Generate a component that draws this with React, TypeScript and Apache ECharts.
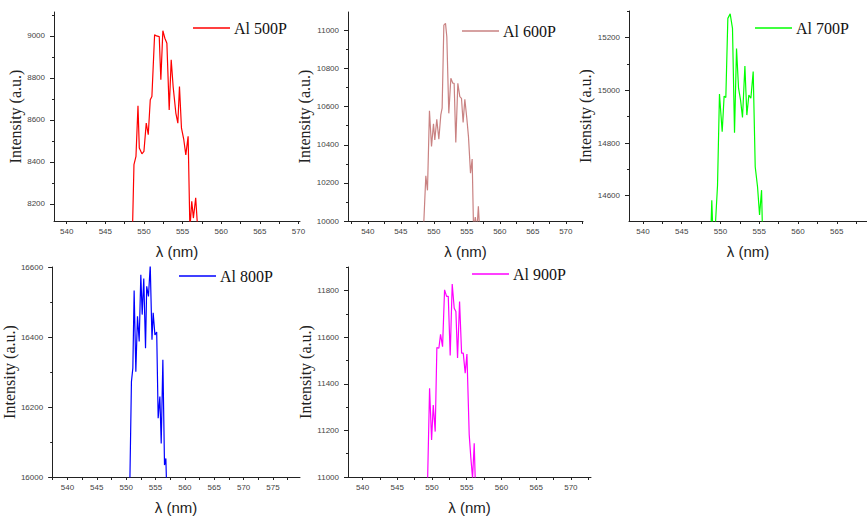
import { useEffect, useRef } from "react";
import * as echarts from "echarts";

// ---- data ----
const seriesNames = ["Al 500P", "Al 600P", "Al 700P", "Al 800P", "Al 900P"];

const x500 = [548.5, 548.71, 548.97, 549.23, 549.4, 549.74, 550.0, 550.3, 550.56, 550.82, 551.03, 551.38, 551.63, 551.98, 552.19, 552.45, 552.71, 552.97, 553.27, 553.53, 553.78, 554.13, 554.39, 554.6, 554.86, 555.16, 555.42, 555.72, 555.95, 556.19, 556.4, 556.7, 556.96];
const y500 = [8050, 8387, 8427, 8667, 8466, 8439, 8450, 8585, 8530, 8696, 8712, 9005, 9000, 8997, 8791, 9025, 8989, 8965, 8648, 8886, 8759, 8633, 8585, 8759, 8561, 8506, 8434, 8522, 8080, 8213, 8133, 8229, 8080];

const x600 = [548.43, 548.79, 549.04, 549.34, 549.65, 549.95, 550.15, 550.45, 550.76, 551.06, 551.26, 551.52, 551.77, 551.97, 552.27, 552.58, 552.88, 553.08, 553.33, 553.64, 553.94, 554.19, 554.44, 554.7, 555.0, 555.25, 555.56, 555.81, 556.02, 556.28, 556.55, 556.75, 556.95];
const y600 = [9950, 10237, 10161, 10578, 10391, 10510, 10426, 10534, 10429, 10557, 10592, 11028, 11037, 10967, 10565, 10749, 10723, 10723, 10412, 10723, 10653, 10644, 10517, 10639, 10539, 10443, 10251, 10325, 9950, 10021, 9960, 10077, 9950];

const x700 = [548.75, 548.88, 549.03, 549.27, 549.62, 549.87, 550.22, 550.47, 550.69, 550.95, 551.25, 551.55, 551.81, 552.07, 552.33, 552.59, 552.84, 553.15, 553.4, 553.66, 553.92, 554.22, 554.48, 554.78, 555.04, 555.3, 555.43];
const y700 = [14450, 14583, 14450, 14450, 14640, 14986, 14843, 14978, 14973, 15273, 15290, 15235, 14839, 15159, 15008, 14963, 14897, 15092, 14906, 14982, 14970, 15071, 14710, 14634, 14527, 14621, 14450];

const x800 = [550.6, 550.9, 551.14, 551.36, 551.65, 551.93, 552.22, 552.5, 552.73, 553.0, 553.3, 553.5, 553.8, 554.1, 554.4, 554.6, 554.9, 555.2, 555.45, 555.74, 555.97, 556.25, 556.53, 556.76, 556.93];
const y800 = [15950, 16272, 16311, 16533, 16301, 16459, 16387, 16578, 16464, 16567, 16368, 16545, 16516, 16605, 16392, 16469, 16406, 16414, 16168, 16230, 16096, 16335, 16034, 16053, 15950];

const x900 = [549.36, 549.65, 549.94, 550.18, 550.46, 550.7, 550.99, 551.23, 551.52, 551.81, 552.1, 552.34, 552.62, 552.91, 553.2, 553.44, 553.68, 553.97, 554.26, 554.5, 554.78, 555.03, 555.36, 555.6, 555.84, 556.08, 556.25];
const y900 = [10980, 11381, 11159, 11309, 11195, 11556, 11553, 11613, 11560, 11804, 11776, 11776, 11522, 11829, 11725, 11711, 11511, 11754, 11532, 11532, 11446, 11528, 11181, 11080, 10995, 11145, 10960];

// tick labels
const xTicks1 = [540, 545, 550, 555, 560, 565, 570];
const xTicks2 = [540, 545, 550, 555, 560, 565, 570];
const xTicks3 = [540, 545, 550, 555, 560, 565];
const xTicks4 = [540, 545, 550, 555, 560, 565, 570, 575];
const xTicks5 = [540, 545, 550, 555, 560, 565, 570];

const yTicks1 = [8200, 8400, 8600, 8800, 9000];
const yTicks2 = [10000, 10200, 10400, 10600, 10800, 11000];
const yTicks3 = [14600, 14800, 15000, 15200];
const yTicks4 = [16000, 16200, 16400, 16600];
const yTicks5 = [11000, 11200, 11400, 11600, 11800];

const colors = ["#ff0000", "#c98282", "#00ff00", "#0000ff", "#ff00ff"];

// ---- layout ----
const panels = [
  { x: x500, y: y500, xTicks: xTicks1, yTicks: yTicks1, grid: { left: 54, top: 12, width: 246, height: 209 }, xr: [538.36, 570.2], yr: [8119, 9114], legend: { left: 193, top: 20 }, nameGap: 21 },
  { x: x600, y: y600, xTicks: xTicks2, yTicks: yTicks2, grid: { left: 348, top: 12, width: 235, height: 209 }, xr: [537.0, 572.6], yr: [10000, 11097], legend: { left: 462, top: 23 }, nameGap: 26 },
  { x: x700, y: y700, xTicks: xTicks3, yTicks: yTicks3, grid: { left: 629, top: 11, width: 238, height: 210 }, xr: [538.2, 568.9], yr: [14504, 15301], legend: { left: 755, top: 20 }, nameGap: 25 },
  { x: x800, y: y800, xTicks: xTicks4, yTicks: yTicks4, grid: { left: 52, top: 267, width: 248, height: 210 }, xr: [537.4, 579.6], yr: [16000, 16600], legend: { left: 179, top: 268 }, nameGap: 24 },
  { x: x900, y: y900, xTicks: xTicks5, yTicks: yTicks5, grid: { left: 348, top: 267, width: 243, height: 210 }, xr: [537.9, 572.9], yr: [11000, 11902], legend: { left: 472, top: 266 }, nameGap: 26 },
];

function stepsInside(min: number, max: number, step: number) {
  const out: number[] = [];
  for (let v = Math.ceil(min / step) * step; v <= max + 1e-9; v += step) out.push(Math.round(v * 1000) / 1000);
  return out;
}

const axisColor = "#222";
const tickFont = { fontFamily: "Liberation Sans, Arial, sans-serif", fontSize: 8, color: "#444" };

export default function App() {
  const ref = useRef<HTMLDivElement>(null);
  useEffect(() => {
    if (!ref.current) return;
    const chart = echarts.init(ref.current, undefined, { renderer: "svg" });
    const grid = panels.map((p) => ({ ...p.grid, containLabel: false }));
    const xAxis = panels.map((p, i) => ({
      type: "value",
      gridIndex: i,
      min: p.xr[0],
      max: p.xr[1],
      axisLine: { show: true, onZero: false, lineStyle: { color: axisColor, width: 1 } },
      axisTick: { show: true, length: 3, customValues: stepsInside(p.xr[0], p.xr[1], 2.5), lineStyle: { color: axisColor } },
      axisLabel: { ...tickFont, margin: 6, customValues: p.xTicks, formatter: (v: number) => String(v) },
      splitLine: { show: false },
      name: "λ (nm)",
      nameLocation: "middle",
      nameGap: 23,
      nameTextStyle: { fontFamily: "Liberation Sans, Arial, sans-serif", fontSize: 15, color: "#222" },
    }));
    const yAxis: any[] = [];
    panels.forEach((p, i) => {
      yAxis.push({
        type: "value",
        gridIndex: i,
        position: "left",
        min: p.yr[0],
        max: p.yr[1],
        axisLine: { show: true, onZero: false, lineStyle: { color: axisColor, width: 1 } },
        axisTick: { show: true, length: 4, customValues: p.yTicks, lineStyle: { color: axisColor } },
        axisLabel: { ...tickFont, margin: 9, customValues: p.yTicks, formatter: (v: number) => String(v) },
        splitLine: { show: false },
        name: "Intensity (a.u.)",
        nameLocation: "middle",
        nameGap: p.nameGap,
        nameTextStyle: { fontFamily: "Liberation Serif, Times New Roman, serif", fontSize: 16, color: "#222" },
      });
      yAxis.push({
        type: "value",
        gridIndex: i,
        position: "left",
        min: p.yr[0],
        max: p.yr[1],
        axisLine: { show: false },
        axisTick: { show: true, length: 2, customValues: stepsInside(p.yr[0], p.yr[1], 100).filter((v) => !p.yTicks.includes(v)), lineStyle: { color: axisColor } },
        axisLabel: { show: false },
        splitLine: { show: false },
      });
    });
    const series = panels.map((p, i) => ({
      type: "line",
      name: seriesNames[i],
      xAxisIndex: i,
      yAxisIndex: 2 * i,
      data: p.x.map((v, j) => [v, p.y[j]]),
      showSymbol: false,
      symbol: "none",
      clip: true,
      lineStyle: { color: colors[i], width: 1.2 },
      itemStyle: { color: colors[i] },
    }));
    const legend = panels.map((p, i) => ({
      data: [seriesNames[i]],
      left: p.legend.left,
      top: p.legend.top,
      padding: 0,
      icon: "rect",
      itemWidth: 37,
      itemHeight: 1.5,
      itemGap: 4,
      selectedMode: false,
      textStyle: { fontFamily: "Liberation Serif, Times New Roman, serif", fontSize: 16, color: "#111", padding: [0, 0, 0, -1] },
    }));
    chart.setOption({ animation: false, backgroundColor: "#fff", grid, xAxis, yAxis, series, legend } as any);
    return () => chart.dispose();
  }, []);
  return <div ref={ref} style={{ position: "fixed", left: 0, top: 0, width: 867, height: 518 }} />;
}
